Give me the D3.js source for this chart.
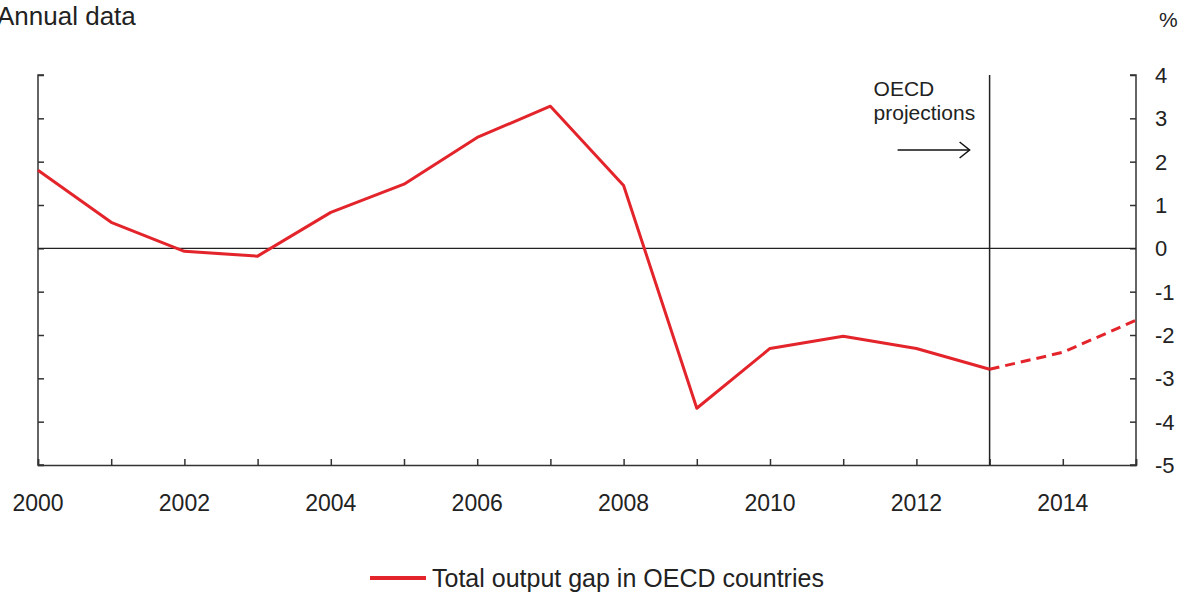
<!DOCTYPE html>
<html>
<head>
<meta charset="utf-8">
<script src="https://cdn.jsdelivr.net/npm/d3@7"></script>
<style>
  body { margin: 0; background: #fff; }
  text { font-family: "Liberation Sans", Arial, sans-serif; fill: #222; }
</style>
</head>
<body>
<div id="chart"></div>
<script>
// Datos
const years = [2000, 2001, 2002, 2003, 2004, 2005, 2006, 2007, 2008, 2009, 2010, 2011, 2012, 2013, 2014, 2015];
const outputGap = [1.80, 0.60, -0.07, -0.18, 0.83, 1.48, 2.56, 3.28, 1.45, -3.69, -2.31, -2.03, -2.31, -2.79, -2.40, -1.66];
const projectionStart = 2013;
const yTicks = [4, 3, 2, 1, 0, -1, -2, -3, -4, -5];
const xLabelYears = [2000, 2002, 2004, 2006, 2008, 2010, 2012, 2014];

const svgWidth = 1187, svgHeight = 597;
const margin = { top: 75, right: 51, bottom: 132, left: 38 };
const width = svgWidth - margin.left - margin.right;
const height = svgHeight - margin.top - margin.bottom;

const root = d3.select("#chart").append("svg")
    .attr("width", svgWidth)
    .attr("height", svgHeight);

const svg = root.append("g")
    .attr("transform", `translate(${margin.left}, ${margin.top})`);

const x = d3.scaleLinear().domain([2000, 2015]).range([0, width]);
const y = d3.scaleLinear().domain([-5, 4]).range([height, 0]);

const datos = years.map((yr, i) => ({ year: yr, value: outputGap[i] }));

// Ejes (ticks hacia dentro)
const axisColor = "#333";

const left = svg.append("g")
    .call(d3.axisRight(y).tickValues(yTicks).tickSize(6).tickFormat(""));
const right = svg.append("g")
    .attr("transform", `translate(${width},0)`)
    .call(d3.axisLeft(y).tickValues(yTicks).tickSize(6).tickFormat(""));
const bottom = svg.append("g")
    .attr("transform", `translate(0,${height})`)
    .call(d3.axisTop(x).tickValues(years).tickSize(6).tickFormat(""));

[left, right, bottom].forEach(g => {
    g.select(".domain").attr("stroke", axisColor).attr("stroke-width", 1.5);
    g.selectAll(".tick line").attr("stroke", axisColor).attr("stroke-width", 1.5);
});
left.select(".domain").attr("d", `M6,0H0V${height}H6`);
right.select(".domain").attr("d", `M-6,0H0V${height}H-6`);

// Etiquetas del eje Y (derecha)
svg.selectAll(".ylab")
    .data(yTicks)
    .enter()
    .append("text")
    .attr("class", "ylab")
    .attr("x", width + 19)
    .attr("y", d => y(d))
    .attr("dy", "0.36em")
    .style("font-size", "22px")
    .text(d => d);

// Etiquetas del eje X
svg.selectAll(".xlab")
    .data(xLabelYears)
    .enter()
    .append("text")
    .attr("class", "xlab")
    .attr("x", d => x(d))
    .attr("y", height + 46)
    .attr("text-anchor", "middle")
    .style("font-size", "23px")
    .text(d => d);

// Linea de cero
svg.append("line")
    .attr("x1", 0).attr("x2", width)
    .attr("y1", y(0)).attr("y2", y(0))
    .attr("stroke", "#222").attr("stroke-width", 1.2);

// Linea vertical de proyecciones
svg.append("line")
    .attr("x1", x(projectionStart)).attr("x2", x(projectionStart))
    .attr("y1", 0).attr("y2", height)
    .attr("stroke", "#222").attr("stroke-width", 1.5);

// Series
const line = d3.line().x(d => x(d.year)).y(d => y(d.value));
const red = "#e3242b";

svg.append("path")
    .datum(datos.filter(d => d.year <= projectionStart))
    .attr("fill", "none")
    .attr("stroke", red)
    .attr("stroke-width", 3)
    .attr("stroke-linejoin", "round")
    .attr("d", line);

svg.append("path")
    .datum(datos.filter(d => d.year >= projectionStart))
    .attr("fill", "none")
    .attr("stroke", red)
    .attr("stroke-width", 3)
    .attr("stroke-dasharray", "10,6")
    .attr("d", line);

// Anotacion
const xp = x(projectionStart);
svg.append("text").attr("x", xp - 116).attr("y", 21).style("font-size", "21px").text("OECD");
svg.append("text").attr("x", xp - 116).attr("y", 45).style("font-size", "21px").text("projections");

const ay = 75;
svg.append("line")
    .attr("x1", xp - 92).attr("x2", xp - 20)
    .attr("y1", ay).attr("y2", ay)
    .attr("stroke", "#111").attr("stroke-width", 1.5);
svg.append("path")
    .attr("d", `M${xp - 30},${ay - 8}L${xp - 20},${ay}L${xp - 30},${ay + 8}`)
    .attr("fill", "none").attr("stroke", "#111").attr("stroke-width", 1.5);

// Titulos
root.append("text").attr("x", -3).attr("y", 25).style("font-size", "26px").text("Annual data");
root.append("text").attr("x", 1159).attr("y", 27).style("font-size", "21px").text("%");

// Leyenda
const legend = root.append("g").attr("transform", "translate(370, 578)");
legend.append("line").attr("x1", 0).attr("x2", 56).attr("y1", 0).attr("y2", 0)
    .attr("stroke", red).attr("stroke-width", 4);
legend.append("text").attr("x", 62).attr("y", 0).attr("dy", "0.35em")
    .style("font-size", "25px").text("Total output gap in OECD countries");
</script>
</body>
</html>
